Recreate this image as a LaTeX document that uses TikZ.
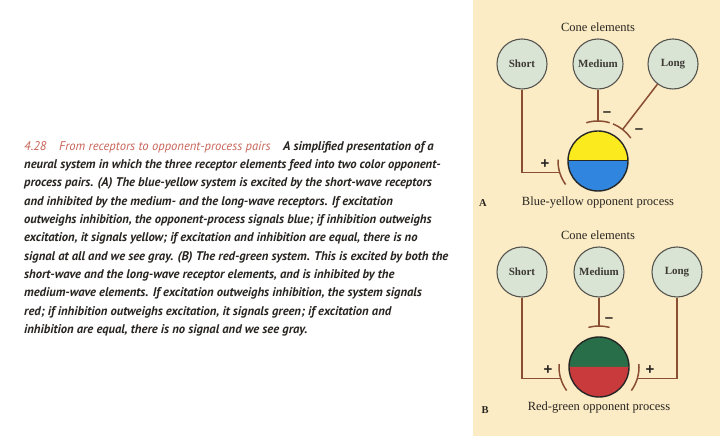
\documentclass[tikz,border=0pt]{standalone}
\usepackage{fontspec}
\setmainfont{Liberation Serif}
\newfontfamily\capfont{PT Sans}
\newfontfamily\signfont{Liberation Sans}
\usetikzlibrary{calc}
\definecolor{panel}{RGB}{251,236,197}
\definecolor{conefill}{RGB}{218,228,212}
\definecolor{conedraw}{RGB}{85,85,80}
\definecolor{brownline}{RGB}{138,78,50}
\definecolor{textdark}{RGB}{40,36,32}
\definecolor{capred}{RGB}{200,100,88}
\definecolor{byellow}{RGB}{250,234,30}
\definecolor{bblue}{RGB}{48,134,222}
\definecolor{bgreen}{RGB}{40,110,72}
\definecolor{bred}{RGB}{200,58,60}
\begin{document}
\begin{tikzpicture}[x=1pt,y=1pt,
  cone/.style={circle,draw=conedraw,line width=1.1pt,fill=conefill,minimum size=50pt,inner sep=0pt,font=\bfseries\fontsize{11}{12}\selectfont,text=textdark!90},
  bigc/.style={circle,draw=black!85,line width=1.4pt,minimum size=60pt,inner sep=0pt},
  link/.style={draw=brownline,line width=1.5pt},
  synbar/.style={draw=brownline,line width=1.5pt},
  sign/.style={font=\signfont\bfseries\fontsize{15}{15}\selectfont,text=textdark,inner sep=0pt},
  lbl/.style={font=\fontsize{12.5}{13}\selectfont,text=textdark,inner sep=0pt},
  panlbl/.style={font=\bfseries\fontsize{10.5}{12}\selectfont,text=textdark,inner sep=0pt}]
\useasboundingbox (0,0) rectangle (720,436);
\fill[white] (0,0) rectangle (720,436);
\fill[panel] (473,0) rectangle (720,436);

% caption text
\node[anchor=north west,align=left,inner sep=0pt,text=textdark,
  font=\capfont\bfseries\itshape\fontsize{12.6}{18.33}\selectfont] (caption) at (24,295) {%
{\mdseries\color{capred}4.28\quad From receptors to opponent-process pairs}\quad A simplified presentation of a\\
neural system in which the three receptor elements feed into two color opponent-\\
process pairs. (A) The blue-yellow system is excited by the short-wave receptors\\
and inhibited by the medium- and the long-wave receptors. If excitation\\
outweighs inhibition, the opponent-process signals blue; if inhibition outweighs\\
excitation, it signals yellow; if excitation and inhibition are equal, there is no\\
signal at all and we see gray. (B) The red-green system. This is excited by both the\\
short-wave and the long-wave receptor elements, and is inhibited by the\\
medium-wave elements. If excitation outweighs inhibition, the system signals\\
red; if inhibition outweighs excitation, it signals green; if excitation and\\
inhibition are equal, there is no signal and we see gray.};

% ---------- Panel A ----------
\node[lbl] (atitle) at (598,409) {Cone elements};
\node[cone] (aS) at (522,372) {Short};
\node[cone] (aM) at (598,372) {Medium};
\node[cone] (aL) at (673,372) {Long};
\coordinate (aC) at (598,275);
\fill[byellow] ($(aC)+(-30,0)$) arc (180:0:30) -- cycle;
\fill[bblue] ($(aC)+(-30,0)$) arc (180:360:30) -- cycle;
\draw[black!85,line width=1pt] ($(aC)+(-30,0)$) -- ($(aC)+(30,0)$);
\node[bigc] (aCn) at (aC) {};
\coordinate (aSb) at ($(aC)+(197:40)$);
\coordinate (aMb) at ($(aC)+(90:40)$);
\coordinate (aLb) at ($(aC)+(52:40)$);
\draw[link] (aS.south) |- (aSb);
\draw[link] (aM.south) -- (aMb);
\draw[link] (aL) -- (aLb);
\draw[synbar] ($(aC)+(178:40)$) arc (178:216:40);
\draw[synbar] ($(aC)+(73:40)$) arc (73:107:40);
\draw[synbar] ($(aC)+(35:40)$) arc (35:68:40);
\node[sign] (aplus) at (545,272) {+};
\node[sign] (aminM) at (607,322) {–};
\node[sign] (aminL) at (639,305) {–};
\node[panlbl] (alabel) at (483,233) {A};
\node[lbl] (acap) at (598,233) {Blue-yellow opponent process};

% ---------- Panel B ----------
\node[lbl] (btitle) at (598,201) {Cone elements};
\node[cone] (bS) at (522,164) {Short};
\node[cone] (bM) at (599,164) {Medium};
\node[cone] (bL) at (677,164) {Long};
\coordinate (bC) at (599,69);
\fill[bgreen] ($(bC)+(-30,0)$) arc (180:0:30) -- cycle;
\fill[bred] ($(bC)+(-30,0)$) arc (180:360:30) -- cycle;
\node[bigc] (bCn) at (bC) {};
\coordinate (bSb) at ($(bC)+(197:40)$);
\coordinate (bMb) at ($(bC)+(90:41)$);
\coordinate (bLb) at ($(bC)+(-17:40)$);
\draw[link] (bS.south) |- (bSb);
\draw[link] (bM.south) -- (bMb);
\draw[link] (bL.south) |- (bLb);
\draw[synbar] ($(bC)+(176:40)$) arc (176:216:40);
\draw[synbar] ($(bC)+(75:41)$) arc (75:105:41);
\draw[synbar] ($(bC)+(4:40)$) arc (4:-36:40);
\node[sign] (bplusS) at (548,66) {+};
\node[sign] (bplusL) at (650,66) {+};
\node[sign] (bminM) at (609,116) {–};
\node[panlbl] (blabel) at (485,26) {B};
\node[lbl] (bcap) at (599,28) {Red-green opponent process};
\end{tikzpicture}
\end{document}
